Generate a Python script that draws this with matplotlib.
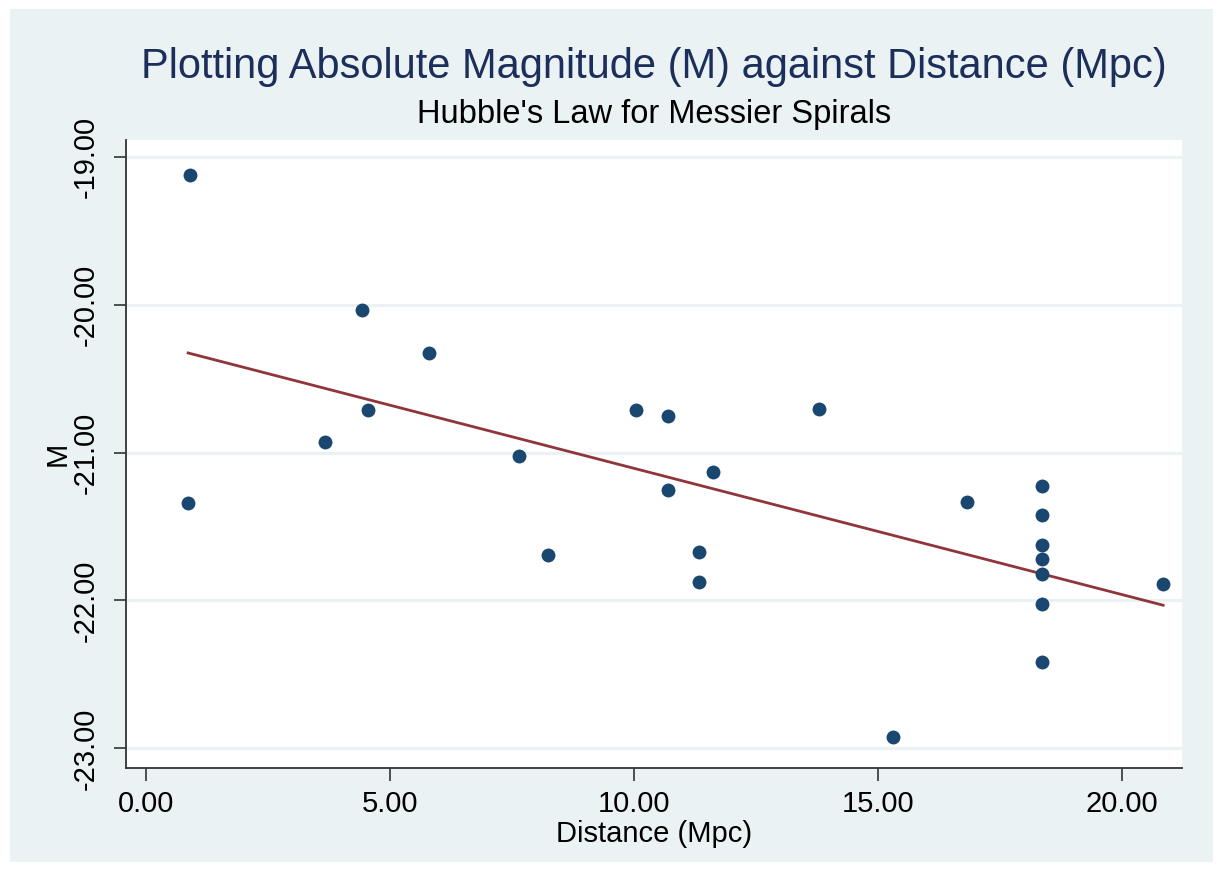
import numpy as np
import matplotlib
matplotlib.use("Agg")
import matplotlib.pyplot as plt
from matplotlib.patches import Rectangle

# distance (Mpc) and absolute magnitude
distance = [0.90, 0.87, 4.43, 5.81, 4.56, 3.67, 7.65, 8.24,
            10.04, 10.70, 13.79, 11.62, 10.70, 11.34, 11.34, 16.84,
            18.37, 18.37, 18.37, 18.37, 18.37, 18.37, 18.37,
            20.85, 15.32]
abs_mag = [-19.124, -21.339, -20.036, -20.330, -20.713, -20.930, -21.024, -21.693,
           -20.713, -20.751, -20.704, -21.130, -21.254, -21.675, -21.874, -21.333,
           -21.227, -21.425, -21.623, -21.722, -21.821, -22.024, -22.414,
           -21.891, -22.922]
x_ticks = [0, 5, 10, 15, 20]
y_ticks = [-19, -20, -21, -22, -23]

plt.rcParams['font.family'] = ['Liberation Sans', 'DejaVu Sans']

bg = '#eaf2f3'
navy = '#1a476f'
maroon = '#90353b'

fig = plt.figure(figsize=(12.17, 8.75), dpi=100)
fig.patch.set_facecolor('white')
fig.patches.append(Rectangle((10/1217, 1 - 862/875), 1203/1217, 853/875,
                             transform=fig.transFigure, facecolor=bg,
                             edgecolor='none', zorder=-10))

ax = fig.add_axes([126/1217, 1 - 768/875, 1056/1217, 628/875])
ax.set_facecolor('white')

x = np.array(distance)
y = np.array(abs_mag)
slope, icpt = np.polyfit(x, y, 1)
xf = np.array([x.min(), x.max()])
ax.plot(xf, slope * xf + icpt, color=maroon, lw=2.0, zorder=2)
ax.plot(x, y, 'o', color=navy, markersize=10, markeredgewidth=0, zorder=3)

ax.set_xlim(-0.404, 21.236)
ax.set_ylim(-23.133, -18.887)
ax.set_xticks(x_ticks)
ax.set_xticklabels([f"{v:.2f}" for v in x_ticks])
ax.set_yticks(y_ticks)
ax.set_yticklabels([f"{v:.2f}" for v in y_ticks], rotation=90, va='center')
ax.grid(axis='y', color=bg, lw=2.2)
ax.set_axisbelow(True)

for s in ['top', 'right']:
    ax.spines[s].set_visible(False)
for s in ['left', 'bottom']:
    ax.spines[s].set_color('#333333')
    ax.spines[s].set_linewidth(1.3)
ax.tick_params(length=9, width=1.2, color='#333333', labelsize=21)
ax.tick_params(axis='x', pad=7)
ax.tick_params(axis='y', pad=10)

ax.set_xlabel("Distance (Mpc)", fontsize=21, labelpad=1)
ax.set_ylabel("M", fontsize=21, labelpad=0)

fig.text(654/1217, 1 - 67/875, "Plotting Absolute Magnitude (M) against Distance (Mpc)",
         ha='center', va='center', fontsize=30, color='#1c2e5a')
fig.text(654/1217, 1 - 114/875, "Hubble's Law for Messier Spirals",
         ha='center', va='center', fontsize=23.5, color='black')

fig.savefig("out.png", dpi=100, facecolor=fig.get_facecolor())
